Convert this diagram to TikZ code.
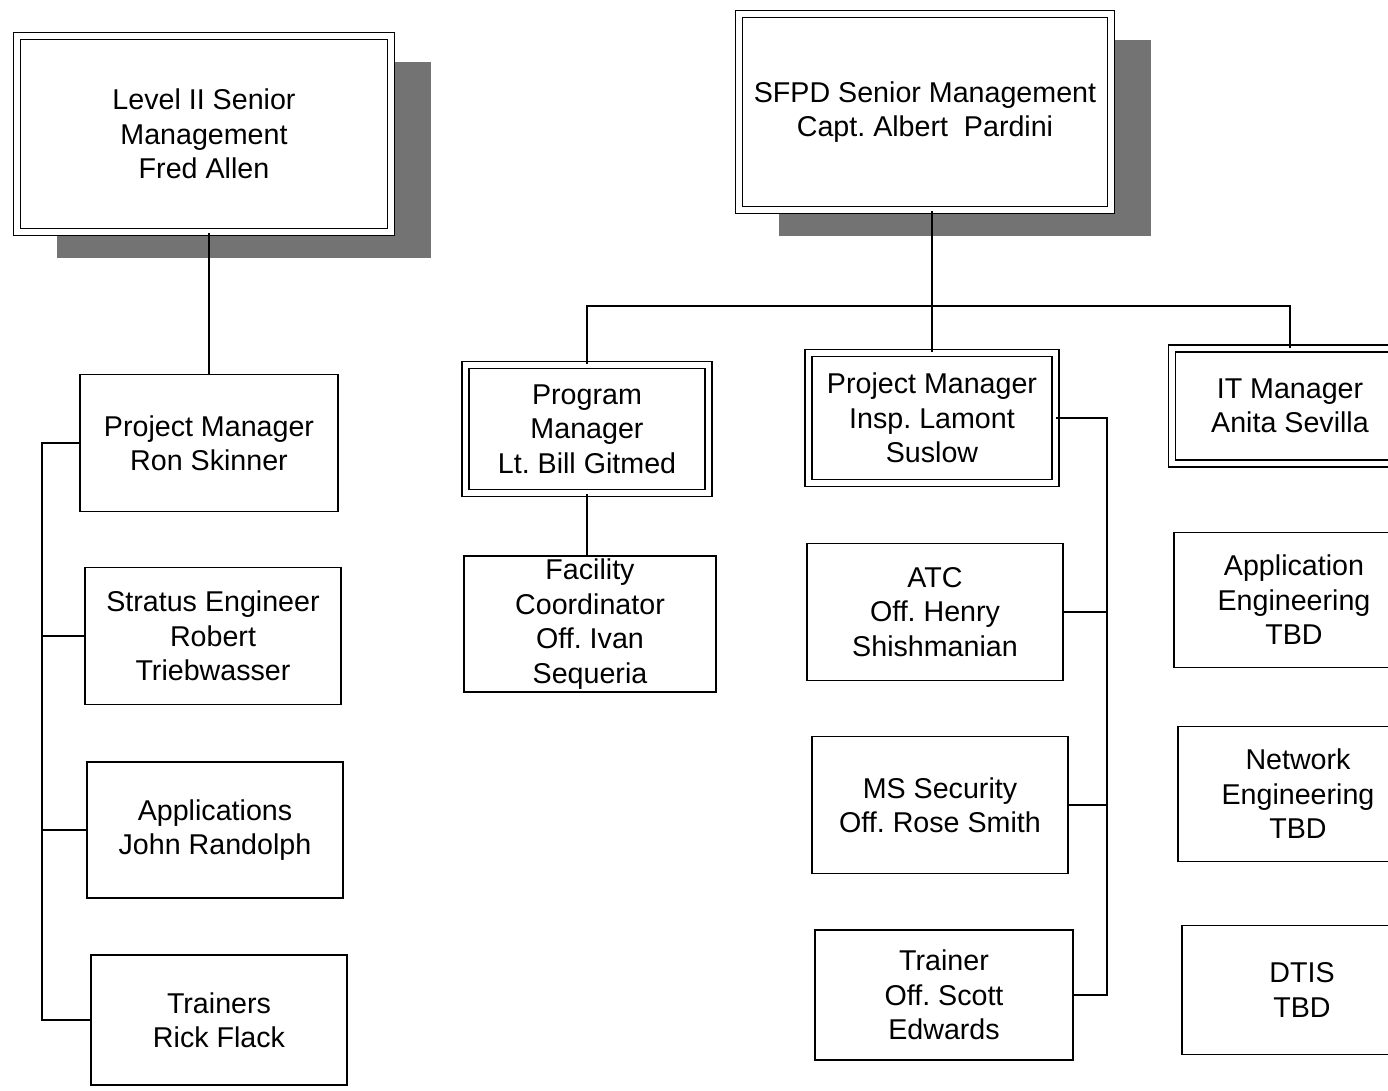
\documentclass[tikz,border=0pt]{standalone}
\usepackage{fontspec}
\setmainfont{Liberation Sans}
\usetikzlibrary{shadows}
\frenchspacing

\begin{document}
\begin{tikzpicture}[
  x=0.02cm, y=-0.02cm,
  font=\fontsize{16.3}{19.6}\selectfont,
  box/.style={draw=black, line width=0.9pt, fill=white, align=center, inner sep=1pt},
  dbox/.style={box, double, double distance=3pt},
  shade/.style={drop shadow={shadow xshift=0.8cm, shadow yshift=-0.52cm, fill=black!55, opacity=1}},
  link/.style={draw=black, line width=0.9pt}
]
\useasboundingbox (0,0) rectangle (1388,1090);
\clip (0,0) rectangle (1388,1090);

% senior management
\node[dbox, shade, minimum width=7.48cm, minimum height=3.92cm] (lvl) at (204,134) {Level II Senior\\Management\\Fred Allen};
\node[dbox, shade, minimum width=7.44cm, minimum height=3.92cm] (sfpd) at (925,112) {SFPD Senior Management\\Capt. Albert\ \ Pardini};

% managers
\node[box, minimum width=5.16cm, minimum height=2.74cm] (pmron) at (209,443) {Project Manager\\Ron Skinner};
\node[dbox, minimum width=4.86cm, minimum height=2.56cm] (prog) at (587,429) {Program\\Manager\\Lt. Bill Gitmed};
\node[dbox, minimum width=4.94cm, minimum height=2.60cm] (pminsp) at (932,418) {Project Manager\\Insp. Lamont\\Suslow};
\node[dbox, minimum width=4.72cm, minimum height=2.30cm] (itmgr) at (1290,406) {IT Manager\\Anita Sevilla};

% left column
\node[box, minimum width=5.12cm, minimum height=2.74cm] (stratus) at (213,636) {Stratus Engineer\\Robert\\Triebwasser};
\node[box, minimum width=5.12cm, minimum height=2.72cm] (apps) at (215,830) {Applications\\John Randolph};
\node[box, minimum width=5.12cm, minimum height=2.60cm] (trainers) at (219,1020) {Trainers\\Rick Flack};

% program staff
\node[box, minimum width=5.04cm, minimum height=2.72cm] (facility) at (590,624) {Facility\\Coordinator\\Off. Ivan\\Sequeria};

% project staff
\node[box, minimum width=5.12cm, minimum height=2.74cm] (atc) at (935,612) {ATC\\Off. Henry\\Shishmanian};
\node[box, minimum width=5.12cm, minimum height=2.74cm] (mssec) at (940,805) {MS Security\\Off. Rose Smith};
\node[box, minimum width=5.16cm, minimum height=2.60cm] (trainer) at (944,995) {Trainer\\Off. Scott\\Edwards};

% IT staff
\node[box, minimum width=4.80cm, minimum height=2.70cm] (appeng) at (1294,600) {Application\\Engineering\\TBD};
\node[box, minimum width=4.80cm, minimum height=2.70cm] (neteng) at (1298,794) {Network\\Engineering\\TBD};
\node[box, minimum width=4.80cm, minimum height=2.58cm] (dtis) at (1302,990) {DTIS\\TBD};

\coordinate (lspine) at (42,448);
\coordinate (rspine) at (1107,411);
\coordinate (bar) at (583,306);

\draw[link] (pmron.north) -- (pmron.north |- lvl.south);
\draw[link] (pmron.west) -| (lspine |- trainers.west) -- (trainers.west);
\draw[link] (lspine |- stratus.west) -- (stratus.west);
\draw[link] (lspine |- apps.west) -- (apps.west);

\draw[link] (pminsp.north) -- (pminsp.north |- sfpd.south);
\draw[link] (prog.north) |- (bar -| itmgr.north) -- (itmgr.north);
\draw[link] (prog.south) -- (prog.south |- facility.north);

\draw[link] (pminsp.east) -| (rspine |- trainer.east) -- (trainer.east);
\draw[link] (rspine |- atc.east) -- (atc.east);
\draw[link] (rspine |- mssec.east) -- (mssec.east);
\end{tikzpicture}
\end{document}
